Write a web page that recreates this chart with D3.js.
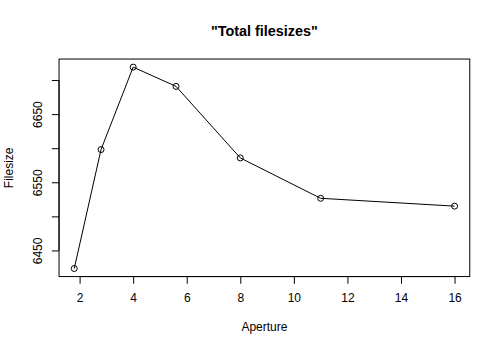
<!DOCTYPE html>
<html>
<head>
<meta charset="utf-8">
<script src="https://cdn.jsdelivr.net/npm/d3@7"></script>
<style>
  html, body { margin: 0; padding: 0; background: #fff; }
  text { font-family: "Liberation Sans", Arial, Helvetica, sans-serif; fill: #000; }
</style>
</head>
<body>
<svg id="chart" width="500" height="350"></svg>
<script>
// Aperture (f-number) and total file size per aperture setting
const apertures = [1.8, 2.8, 4, 5.6, 8, 11, 16];
const filesizes = [6423.5, 6598, 6719, 6690.7, 6585.7, 6526.5, 6515];
const xTicks = [2, 4, 6, 8, 10, 12, 14, 16];
const yTicks = [6450, 6500, 6550, 6600, 6650, 6700];
const yTickLabels = ["6450", "", "6550", "", "6650", ""];

const W = 500, H = 350;
const lineH = 14.4;                       // one margin line
const mar = { bottom: 5.1, left: 4.1, top: 4.1, right: 2.1 };
const plot = {
  left: mar.left * lineH,
  right: W - mar.right * lineH,
  top: mar.top * lineH,
  bottom: H - mar.bottom * lineH
};

// pad each data range by 4% on both sides
function padded(vals) {
  const [lo, hi] = d3.extent(vals);
  const r = hi - lo;
  return [lo - 0.04 * r, hi + 0.04 * r];
}

const x = d3.scaleLinear().domain(padded(apertures)).range([plot.left, plot.right]);
const y = d3.scaleLinear().domain(padded(filesizes)).range([plot.bottom, plot.top]);

const svg = d3.select("#chart");

// frame around the plotting region
svg.append("rect")
  .attr("x", plot.left).attr("y", plot.top)
  .attr("width", plot.right - plot.left)
  .attr("height", plot.bottom - plot.top)
  .attr("fill", "none").attr("stroke", "#000").attr("stroke-width", 1);

const tickLen = 0.5 * lineH;

// bottom axis
const xAxis = d3.axisBottom(x).tickValues(xTicks).tickSize(tickLen).tickPadding(0).tickFormat(d3.format("d"));
const gx = svg.append("g").attr("transform", `translate(0,${plot.bottom})`).call(xAxis);
gx.select(".domain").attr("d", `M${x(xTicks[0])},0H${x(xTicks[xTicks.length - 1])}`).attr("stroke", "#000");
gx.selectAll(".tick line").attr("stroke", "#000");
gx.selectAll(".tick text")
  .attr("y", 1.8 * lineH).attr("dy", null)
  .attr("font-size", 12).attr("fill", "#000");
gx.attr("font-family", null);

// left axis, labels rotated to run upward
const yAxis = d3.axisLeft(y).tickValues(yTicks).tickSize(tickLen).tickPadding(0)
  .tickFormat((d, i) => yTickLabels[i]);
const gy = svg.append("g").attr("transform", `translate(${plot.left},0)`).call(yAxis);
gy.select(".domain").attr("d", `M0,${y(yTicks[0])}V${y(yTicks[yTicks.length - 1])}`).attr("stroke", "#000");
gy.selectAll(".tick line").attr("stroke", "#000");
gy.selectAll(".tick text")
  .attr("x", null).attr("dy", null)
  .attr("transform", `translate(${-1.2 * lineH},0) rotate(-90)`)
  .attr("text-anchor", "middle")
  .attr("font-size", 12).attr("fill", "#000");
gy.attr("font-family", null);

// connecting line and open circles
const line = d3.line().x((d, i) => x(apertures[i])).y(d => y(d));
svg.append("path")
  .datum(filesizes)
  .attr("d", line)
  .attr("fill", "none").attr("stroke", "#000").attr("stroke-width", 1);

svg.append("g").selectAll("circle")
  .data(filesizes)
  .join("circle")
  .attr("cx", (d, i) => x(apertures[i]))
  .attr("cy", d => y(d))
  .attr("r", 3)
  .attr("fill", "none").attr("stroke", "#000").attr("stroke-width", 1);

const cx = (plot.left + plot.right) / 2;
const cy = (plot.top + plot.bottom) / 2;

// title
svg.append("text")
  .attr("x", cx).attr("y", 36)
  .attr("text-anchor", "middle")
  .attr("font-size", 14.4).attr("font-weight", "bold")
  .text('"Total filesizes"');

// axis titles
svg.append("text")
  .attr("x", cx).attr("y", plot.bottom + 3.8 * lineH)
  .attr("text-anchor", "middle").attr("font-size", 12)
  .text("Aperture");

svg.append("text")
  .attr("transform", `translate(${plot.left - 3.2 * lineH},${cy}) rotate(-90)`)
  .attr("text-anchor", "middle").attr("font-size", 12)
  .text("Filesize");
</script>
</body>
</html>
